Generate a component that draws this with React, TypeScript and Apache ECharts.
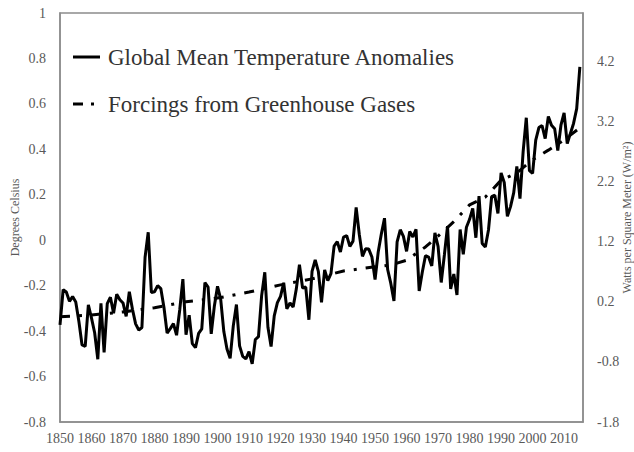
import React, { useEffect, useRef } from "react";
import * as echarts from "echarts";

const FIRST_YEAR = 1850;
// Global mean temperature anomalies (°C), one value per year from 1850
const tempAnomaly = [
  -0.373, -0.218, -0.228, -0.269, -0.248, -0.272, -0.358, -0.461, -0.467, -0.284,
  -0.343, -0.407, -0.524, -0.278, -0.494, -0.279, -0.251, -0.321, -0.238, -0.262,
  -0.276, -0.335, -0.227, -0.304, -0.368, -0.395, -0.384, -0.075, 0.035, -0.23,
  -0.227, -0.2, -0.213, -0.296, -0.409, -0.389, -0.367, -0.418, -0.307, -0.171,
  -0.416, -0.33, -0.455, -0.473, -0.41, -0.39, -0.186, -0.206, -0.412, -0.289,
  -0.203, -0.259, -0.402, -0.479, -0.52, -0.377, -0.283, -0.465, -0.511, -0.522,
  -0.49, -0.544, -0.437, -0.424, -0.244, -0.141, -0.383, -0.468, -0.333, -0.275,
  -0.247, -0.187, -0.302, -0.276, -0.294, -0.215, -0.108, -0.21, -0.206, -0.35,
  -0.137, -0.087, -0.137, -0.273, -0.131, -0.178, -0.147, -0.026, -0.006, -0.052,
  0.014, 0.02, -0.027, -0.004, 0.144, 0.025, -0.071, -0.038, -0.039, -0.074,
  -0.173, -0.052, 0.028, 0.097, -0.129, -0.19, -0.267, -0.007, 0.046, 0.017,
  -0.049, 0.038, 0.014, 0.048, -0.223, -0.14, -0.068, -0.074, -0.113, 0.032,
  -0.027, -0.186, -0.065, 0.062, -0.214, -0.149, -0.241, 0.047, -0.062, 0.057,
  0.092, 0.14, 0.011, 0.194, -0.014, -0.03, 0.045, 0.192, 0.198, 0.118,
  0.296, 0.254, 0.105, 0.148, 0.208, 0.325, 0.183, 0.39, 0.539, 0.306,
  0.294, 0.441, 0.496, 0.505, 0.447, 0.545, 0.506, 0.491, 0.395, 0.506,
  0.56, 0.425, 0.47, 0.514, 0.579, 0.763,
];

// Forcings from greenhouse gases (W/m²)
const forcingYears = [
  1850, 1860, 1870, 1880, 1890, 1900, 1910, 1920, 1930, 1940, 1950, 1955,
  1960, 1966, 1970, 1975, 1980, 1985, 1990, 1995, 2000, 2005, 2010, 2015,
];
const forcingWm2 = [
  -0.05, -0.02, 0.03, 0.1, 0.2, 0.26, 0.36, 0.48, 0.58, 0.71, 0.78, 0.81,
  0.89, 1.11, 1.29, 1.53, 1.81, 1.94, 2.22, 2.34, 2.56, 2.72, 2.89, 3.09,
];

const xTickLabels = [1850, 1860, 1870, 1880, 1890, 1900, 1910, 1920, 1930, 1940, 1950, 1960, 1970, 1980, 1990, 2000, 2010];
const rightTickLabels = [-1.8, -0.8, 0.2, 1.2, 2.2, 3.2, 4.2];
const seriesNames = ["Global Mean Temperature Anomalies", "Forcings from Greenhouse Gases"];

const SERIF = "Liberation Serif";
const LABEL_COLOR = "#595959";
const AXIS_COLOR = "#8c8c8c";
const DASH = [10, 9, 3, 9];

export default function App() {
  const ref = useRef<HTMLDivElement>(null);

  useEffect(() => {
    if (!ref.current) return;
    const chart = echarts.init(ref.current, undefined, { renderer: "svg" });

    const tempData = tempAnomaly.map((v, i) => [FIRST_YEAR + i, v]);
    const forcingData = forcingYears.map((y, i) => [y, forcingWm2[i]]);

    chart.setOption({
      animation: false,
      backgroundColor: "#ffffff",
      grid: {
        left: 60,
        right: 51,
        top: 13,
        bottom: 30,
        containLabel: false,
        outerBoundsMode: "none",
        show: true,
        borderColor: AXIS_COLOR,
        borderWidth: 1.5,
        backgroundColor: "transparent",
      },
      graphic: [
        { type: "line", shape: { x1: 73, y1: 57, x2: 100, y2: 57 }, style: { stroke: "#000", lineWidth: 3 } },
        { type: "text", x: 108, y: 57, style: { text: seriesNames[0], font: `23px ${SERIF}`, fill: "#333333", verticalAlign: "middle" } },
        { type: "line", shape: { x1: 73, y1: 104, x2: 83, y2: 104 }, style: { stroke: "#000", lineWidth: 3 } },
        { type: "line", shape: { x1: 91, y1: 104, x2: 94, y2: 104 }, style: { stroke: "#000", lineWidth: 3 } },
        { type: "text", x: 108, y: 104, style: { text: seriesNames[1], font: `23px ${SERIF}`, fill: "#333333", verticalAlign: "middle" } },
      ],
      xAxis: {
        type: "value",
        min: 1850,
        max: 2016,
        interval: 10,
        axisLine: { show: true, onZero: false, lineStyle: { color: AXIS_COLOR, width: 1.5 } },
        axisTick: { show: false },
        splitLine: { show: false },
        axisLabel: {
          customValues: xTickLabels,
          fontFamily: SERIF,
          fontSize: 14,
          color: LABEL_COLOR,
          margin: 9,
          formatter: (v: number) => String(v),
        },
      },
      yAxis: [
        {
          type: "value",
          min: -0.8,
          max: 1,
          interval: 0.2,
          name: "Degrees Celsius",
          nameLocation: "middle",
          nameGap: 39,
          nameMoveOverlap: false,
          nameTextStyle: { fontFamily: SERIF, fontSize: 12, color: LABEL_COLOR },
          axisLine: { show: true, onZero: false, lineStyle: { color: AXIS_COLOR, width: 1.5 } },
          axisTick: { show: false },
          splitLine: { show: false },
          axisLabel: {
            fontFamily: SERIF,
            fontSize: 14,
            color: LABEL_COLOR,
            margin: 14,
            formatter: (v: number) => String(Math.round(v * 10) / 10),
          },
        },
        {
          type: "value",
          min: -1.8,
          max: 5,
          name: "Watts per Square Meter (W/m²)",
          nameLocation: "middle",
          nameGap: 38,
          nameMoveOverlap: false,
          nameTextStyle: { fontFamily: SERIF, fontSize: 12, color: LABEL_COLOR },
          axisLine: { show: true, onZero: false, lineStyle: { color: AXIS_COLOR, width: 1.5 } },
          axisTick: { show: false },
          splitLine: { show: false },
          axisLabel: {
            customValues: rightTickLabels,
            fontFamily: SERIF,
            fontSize: 14,
            color: LABEL_COLOR,
            margin: 14,
            formatter: (v: number) => v.toFixed(1),
          },
        },
      ],
      series: [
        {
          name: seriesNames[0],
          type: "line",
          yAxisIndex: 0,
          data: tempData,
          symbol: "none",
          lineStyle: { color: "#000000", width: 3 },
          itemStyle: { color: "#000000" },
        },
        {
          name: seriesNames[1],
          type: "line",
          yAxisIndex: 1,
          data: forcingData,
          symbol: "none",
          lineStyle: { color: "#000000", width: 3, type: DASH },
          itemStyle: { color: "#000000" },
        },
      ],
    });

    return () => chart.dispose();
  }, []);

  return <div ref={ref} style={{ width: 634, height: 452, position: "absolute", left: 0, top: 0 }} />;
}
